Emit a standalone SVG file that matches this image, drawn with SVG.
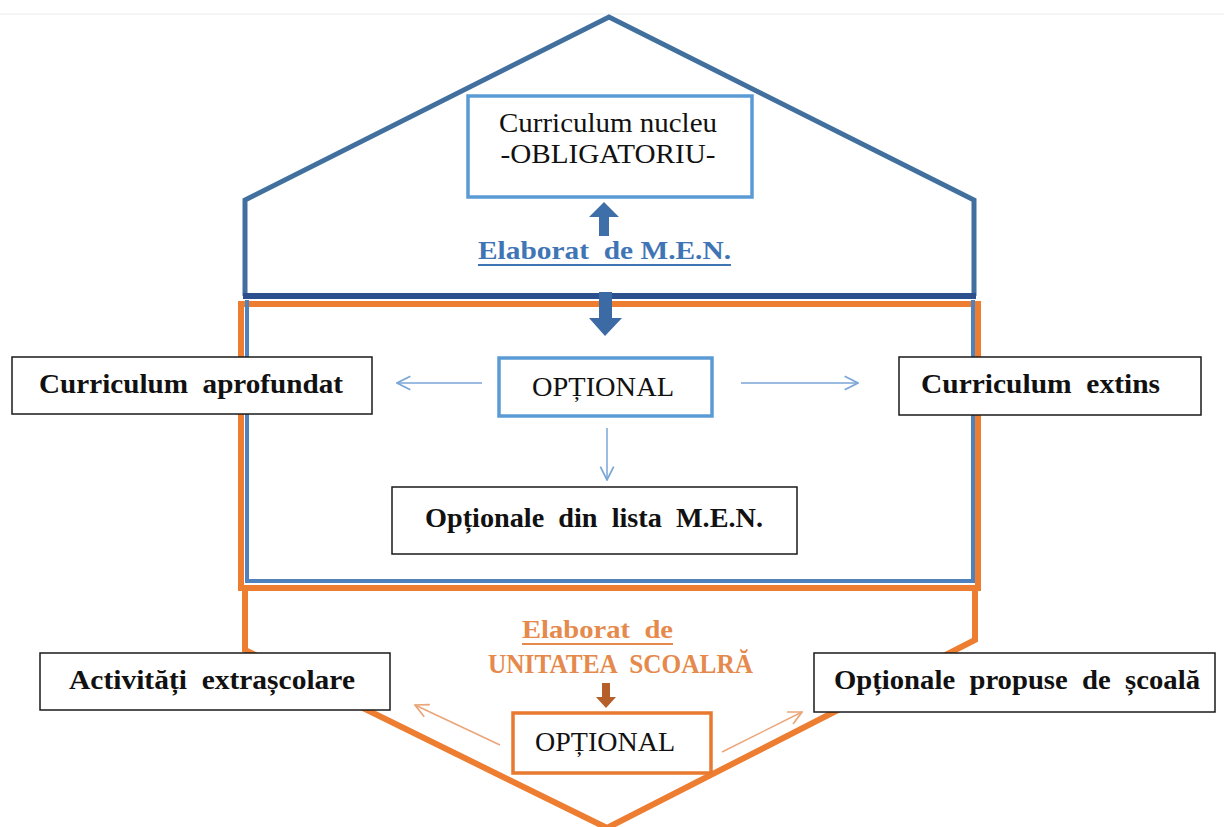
<svg xmlns="http://www.w3.org/2000/svg" width="1224" height="827" viewBox="0 0 1224 827">
  <defs>
    <style>
      text { white-space: pre; }
      .box { fill: #ffffff; stroke: #1a1a1a; stroke-width: 1.5; }
      .boxb { fill: #ffffff; stroke: #5b9bd5; stroke-width: 3.5; }
      .boxo { fill: #ffffff; stroke: #e8792f; stroke-width: 3.5; }
      .lbl { font-family: "Liberation Serif", "Times New Roman", serif; font-weight: bold; font-size: 27px; fill: #111111; }
      .reg { font-family: "Liberation Serif", "Times New Roman", serif; font-size: 27px; fill: #111111; }
      .thin { fill: none; stroke: #7aa6d6; stroke-width: 1.5; }
      .thino { fill: none; stroke: #eba57a; stroke-width: 1.5; }
    </style>
    <marker id="headB" viewBox="0 0 12 12" refX="11" refY="6" markerWidth="16" markerHeight="16" markerUnits="userSpaceOnUse" orient="auto">
      <path d="M1,1 L11,6 L1,11" fill="none" stroke="#7aa6d6" stroke-width="1.3"/>
    </marker>
    <marker id="headO" viewBox="0 0 12 12" refX="11" refY="6" markerWidth="16" markerHeight="16" markerUnits="userSpaceOnUse" orient="auto">
      <path d="M1,1 L11,6 L1,11" fill="none" stroke="#eba57a" stroke-width="1.3"/>
    </marker>
  </defs>

  <rect width="1224" height="827" fill="#ffffff"/>
  <line x1="0" y1="14" x2="1224" y2="14" stroke="#ececec" stroke-width="1"/>

  <!-- frame: house roof (blue), middle band (orange/blue), lower point (orange) -->
  <g id="frame">
    <polyline points="245,296 245,200 609,17 974,200 974,296" fill="none" stroke="#41709f" stroke-width="5" stroke-linejoin="miter"/>
    <path d="M241,588 L245,588 L245,650 L607,828 L975,640 L975,588" fill="none" stroke="#ed7d31" stroke-width="6" stroke-linejoin="miter"/>
    <rect x="241" y="304" width="737" height="284" fill="none" stroke="#ed7d31" stroke-width="6"/>
    <polyline points="247,300 247,581 973,581 973,300" fill="none" stroke="#4f81bd" stroke-width="4"/>
    <line x1="243" y1="296" x2="976" y2="296" stroke="#2c4f8e" stroke-width="6"/>
  </g>

  <g id="connectors">
    <!-- block arrows -->
    <polygon points="599,236 609,236 609,217 619,217 604,202 589,217 599,217" fill="#3f6fa8"/>
    <polygon points="599,292 612,292 612,318 622,318 605,336 589,318 599,318" fill="#3b6aa5"/>
    <polygon points="602,683 610,683 610,697 616,697 606,708 596,697 602,697" fill="#b5602a"/>
    <!-- thin arrows -->
    <line class="thin" x1="482" y1="383" x2="397" y2="383" marker-end="url(#headB)"/>
    <line class="thin" x1="741" y1="383" x2="858" y2="383" marker-end="url(#headB)"/>
    <line class="thin" x1="607" y1="428" x2="607" y2="480" marker-end="url(#headB)"/>
    <line class="thino" x1="500" y1="745" x2="415" y2="705" marker-end="url(#headO)"/>
    <line class="thino" x1="722" y1="752" x2="802" y2="712" marker-end="url(#headO)"/>
  </g>

  <g id="nucleu">
    <rect class="boxb" x="468" y="96" width="284" height="101" stroke-width="3"/>
    <text class="reg" x="608" y="132" text-anchor="middle" textLength="218" lengthAdjust="spacingAndGlyphs">Curriculum nucleu</text>
    <text class="reg" x="608" y="163" text-anchor="middle" textLength="215" lengthAdjust="spacingAndGlyphs">-OBLIGATORIU-</text>
  </g>

  <g id="elaborat-men">
    <text x="478" y="259" font-family="Liberation Serif, serif" font-weight="bold" font-size="26" fill="#3f75b5" textLength="253" lengthAdjust="spacingAndGlyphs">Elaborat  de M.E.N.</text>
    <line x1="478" y1="265" x2="731" y2="265" stroke="#3f75b5" stroke-width="2"/>
  </g>

  <g id="optional-men">
    <rect class="boxb" x="499" y="358" width="213" height="58"/>
    <text class="reg" x="532" y="396" textLength="142" lengthAdjust="spacingAndGlyphs">OPȚIONAL</text>
  </g>

  <g id="aprofundat">
    <rect class="box" x="12" y="357" width="360" height="57"/>
    <text class="lbl" x="39" y="393" textLength="304" lengthAdjust="spacingAndGlyphs">Curriculum  aprofundat</text>
  </g>

  <g id="extins">
    <rect class="box" x="899" y="357" width="302" height="58"/>
    <text class="lbl" x="921" y="393" textLength="239" lengthAdjust="spacingAndGlyphs">Curriculum  extins</text>
  </g>

  <g id="lista-men">
    <rect class="box" x="392" y="487" width="405" height="67" stroke-width="3"/>
    <text class="lbl" x="425" y="527" textLength="338" lengthAdjust="spacingAndGlyphs">Opționale  din  lista  M.E.N.</text>
  </g>

  <g id="elaborat-scoala">
    <text x="522" y="638" font-family="Liberation Serif, serif" font-weight="bold" font-size="25" fill="#e58a4c" textLength="151" lengthAdjust="spacingAndGlyphs">Elaborat  de</text>
    <line x1="522" y1="644" x2="673" y2="644" stroke="#e58a4c" stroke-width="2"/>
    <text x="488" y="673" font-family="Liberation Serif, serif" font-weight="bold" font-size="27" fill="#e58a4c" textLength="265" lengthAdjust="spacingAndGlyphs">UNITATEA  SCOALRĂ</text>
  </g>

  <g id="extrascolare">
    <rect class="box" x="40" y="653" width="350" height="57"/>
    <text class="lbl" x="69" y="689" textLength="286" lengthAdjust="spacingAndGlyphs">Activități  extrașcolare</text>
  </g>

  <g id="optional-scoala">
    <rect class="boxo" x="513" y="713" width="198" height="60"/>
    <text class="reg" x="535" y="751" textLength="140" lengthAdjust="spacingAndGlyphs">OPȚIONAL</text>
  </g>

  <g id="propuse">
    <rect class="box" x="814" y="653" width="401" height="59"/>
    <text class="lbl" x="834" y="689" textLength="366" lengthAdjust="spacingAndGlyphs">Opționale  propuse  de  școală</text>
  </g>
</svg>
